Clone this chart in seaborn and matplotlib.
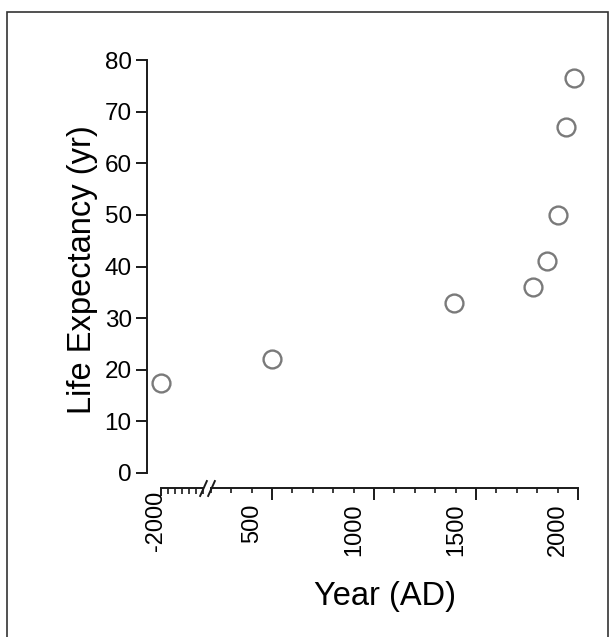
#scatter of life expectancy over time, with a broken x axis
import matplotlib
matplotlib.use("Agg")
import matplotlib.pyplot as plt
from matplotlib.patches import Rectangle
from matplotlib.transforms import ScaledTranslation
import seaborn as sns
import pandas as pd

#data
years = [-2000, 500, 1390, 1780, 1850, 1900, 1940, 1980]
life_expectancy = [17.5, 22, 33, 36, 41, 50, 67, 76.5]

y_ticks = [0, 10, 20, 30, 40, 50, 60, 70, 80]
x_major_ticks = [500, 1000, 1500, 2000]
x_minor_ticks = list(range(200, 2001, 100))
left_ticks = list(range(-2000, -1399, 100))

df = pd.DataFrame({"year": years, "life": life_expectancy})
ancient = df[df["year"] < 0]
modern = df[df["year"] >= 0]

sns.set_style("ticks")
plt.rcParams["font.family"] = ["Liberation Sans", "DejaVu Sans"]
plt.rcParams["text.color"] = "black"
plt.rcParams["xtick.labelcolor"] = "black"
plt.rcParams["ytick.labelcolor"] = "black"
plt.rcParams["axes.unicode_minus"] = False

W, H = 609, 637
fig = plt.figure(figsize=(W / 100, H / 100), dpi=100)


def box(left, right, top, bottom):
    return [left / W, 1 - bottom / H, (right - left) / W, (bottom - top) / H]


ax_l = fig.add_axes(box(147, 205, 50, 488))
ax_r = fig.add_axes(box(205, 590, 50, 488))

ylim = (-2.906, 81.94)
edge = "#1a1a1a"
marker_kw = dict(s=165, facecolor="white", edgecolor="#7a7a7a", linewidth=1.7,
                 clip_on=False, zorder=5)

sns.scatterplot(data=ancient, x="year", y="life", ax=ax_l, **marker_kw)
sns.scatterplot(data=modern, x="year", y="life", ax=ax_r, **marker_kw)

for ax in (ax_l, ax_r):
    ax.set_ylim(*ylim)
    ax.patch.set_visible(False)
    ax.set_xlabel("")
    ax.set_ylabel("")
    for side in ("top", "right", "left", "bottom"):
        ax.spines[side].set_visible(False)

ax_l.set_xlim(-2200, -1371.4)
ax_r.set_xlim(171.6, 2058.8)

#y axis
ax_l.spines["left"].set_visible(True)
ax_l.spines["left"].set_bounds(0, 80)
ax_l.spines["left"].set_linewidth(1.4)
ax_l.spines["left"].set_color(edge)
ax_l.set_yticks(y_ticks)
ax_l.tick_params(axis="y", length=8, width=1.4, color=edge, labelsize=17.5, pad=3)
ax_r.set_yticks([])

#left piece of the x axis
ax_l.spines["bottom"].set_visible(True)
ax_l.spines["bottom"].set_bounds(-2000, -1400)
ax_l.spines["bottom"].set_linewidth(1.4)
ax_l.spines["bottom"].set_color(edge)
ax_l.set_xticks([-2000])
ax_l.set_xticks(left_ticks, minor=True)
ax_l.tick_params(axis="x", which="major", length=5.5, width=1.4, color=edge,
                 labelsize=17, labelrotation=90, pad=2)
ax_l.tick_params(axis="x", which="minor", length=4, width=1.2, color=edge)
for label in ax_l.get_xticklabels():
    label.set_transform(label.get_transform()
                        + ScaledTranslation(-0.05, 0.08, fig.dpi_scale_trans))

#right piece of the x axis
ax_r.spines["bottom"].set_visible(True)
ax_r.spines["bottom"].set_bounds(200, 2000)
ax_r.spines["bottom"].set_linewidth(1.4)
ax_r.spines["bottom"].set_color(edge)
ax_r.set_xticks(x_major_ticks)
ax_r.set_xticks(x_minor_ticks, minor=True)
ax_r.tick_params(axis="x", which="major", length=8.5, width=1.4, color=edge,
                 labelsize=17, labelrotation=90, pad=3)
ax_r.tick_params(axis="x", which="minor", length=3.8, width=1.2, color=edge)
for label in ax_r.get_xticklabels():
    label.set_transform(label.get_transform()
                        + ScaledTranslation(-0.2, 0, fig.dpi_scale_trans))

#break marks
brk = dict(marker=[(-0.45, -1), (0.45, 1)], markersize=12, linestyle="none",
           color=edge, mec=edge, mew=1.4, clip_on=False)
ax_l.plot([-1400], [0], transform=ax_l.get_xaxis_transform(), **brk)
ax_r.plot([200], [0], transform=ax_r.get_xaxis_transform(), **brk)

#axis titles
fig.text(83 / W, 1 - 270 / H, "Life Expectancy (yr)", rotation=90,
         ha="center", va="center", fontsize=23.5)
fig.text(385 / W, 1 - 597 / H, "Year (AD)", ha="center", va="center",
         fontsize=23.5)

#frame round the figure
fig.add_artist(Rectangle((7 / W, -0.1), 601 / W, 1.1 - 12 / H,
                         transform=fig.transFigure, fill=False,
                         edgecolor="#333333", linewidth=1.2))

fig.savefig("out.png", dpi=100)
